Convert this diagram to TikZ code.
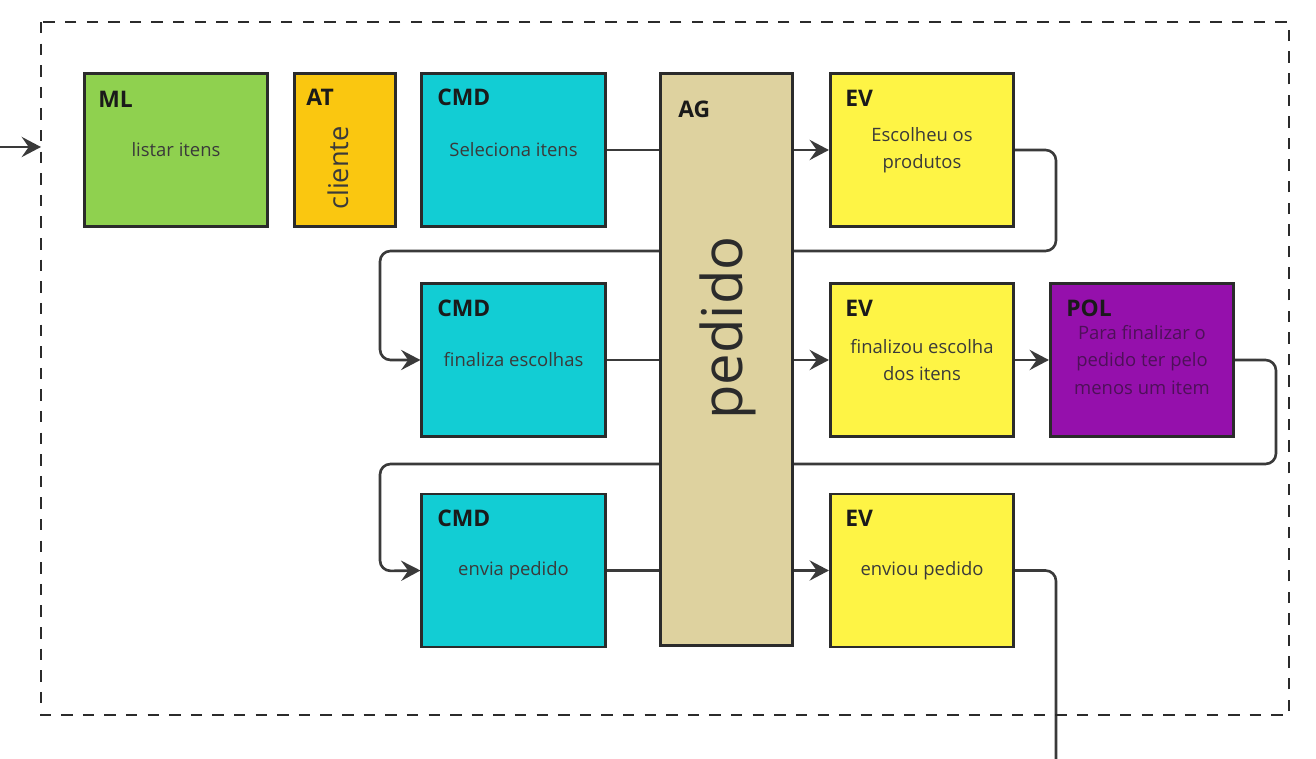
\documentclass[tikz,border=0pt]{standalone}
\usepackage{fontspec}
\setmainfont{Open Sans}
\usepackage{xcolor}
\definecolor{mlGreen}{HTML}{8FD14F}
\definecolor{atYellow}{HTML}{FAC710}
\definecolor{cmdCyan}{HTML}{12CDD4}
\definecolor{agBeige}{HTML}{DED29F}
\definecolor{evYellow}{HTML}{FEF445}
\definecolor{polPurple}{HTML}{9510AC}
\definecolor{edgeGray}{HTML}{2B2B2B}
\definecolor{lineGray}{HTML}{3A3A3A}
\definecolor{bodyGray}{HTML}{3A3A3A}
\definecolor{tagBlack}{HTML}{1A1A1A}
\definecolor{polText}{HTML}{4E1059}
\usetikzlibrary{arrows.meta}
\usetikzlibrary{backgrounds}

\begin{document}
\begin{tikzpicture}[x=0.02cm, y=-0.02cm,
    card/.style={draw=edgeGray, line width=1.5pt, minimum width=3.67cm, minimum height=3.06cm,
      align=center, inner sep=2pt, text=bodyGray, font=\fontsize{10.5}{15.4}\selectfont},
    tag/.style={anchor=west, inner sep=0pt, text=tagBlack, font=\fontsize{13}{14}\selectfont\bfseries},
    link/.style={draw=lineGray, line width=1.5pt},
    flow/.style={link, -{Stealth[length=11pt, width=11.5pt, inset=4pt]}},
    frame/.style={draw=edgeGray, line width=1.5pt, dash pattern=on 6.5pt off 5.8pt}]
        \useasboundingbox (0,0) rectangle (1316,759);
        \draw [frame] (41,22) rectangle (1289,715);

        % first row
        \node [card, fill=mlGreen] (ml) at (176,150) {listar itens};
        \node [card, fill=atYellow, minimum width=2.03cm] (at) at (345,150) {};
        \node [card, fill=cmdCyan] (cmdA) at (513.5,150) {Seleciona itens};
        \node [card, fill=evYellow] (evA) at (922,150) {Escolheu os\\produtos};
        % second row
        \node [card, fill=cmdCyan] (cmdB) at (513.5,360) {finaliza escolhas};
        \node [card, fill=evYellow] (evB) at (922,360) {finalizou escolha\\dos itens};
        \node [card, fill=polPurple, text=polText] (pol) at (1142,360) {Para finalizar o\\pedido ter pelo\\menos um item};
        % third row
        \node [card, fill=cmdCyan] (cmdC) at (513.5,570.5) {envia pedido};
        \node [card, fill=evYellow] (evC) at (922,570.5) {enviou pedido};
        % aggregate
        \node [card, fill=agBeige, minimum width=2.65cm, minimum height=11.45cm] (ag) at (726.5,359.5) {};

        \node [tag] (mlTag) at (98,99) {ML};
        \node [tag] (atTag) at (306,97) {AT};
        \node [tag] (cmdATag) at (437,97) {CMD};
        \node [tag] (cmdBTag) at (437,308) {CMD};
        \node [tag] (cmdCTag) at (437,518) {CMD};
        \node [tag] (agTag) at (678,109) {AG};
        \node [tag] (evATag) at (845,98) {EV};
        \node [tag] (evBTag) at (845,308) {EV};
        \node [tag] (evCTag) at (845,518) {EV};
        \node [tag] (polTag) at (1066,308) {POL};
        \node [rotate=90, text=bodyGray, font=\fontsize{15.5}{16}\selectfont] (atName) at (338,168) {cliente};
        \node [rotate=90, text=edgeGray, font=\fontsize{32}{32}\selectfont] (agName) at (728,328) {pedido};

        \coordinate (entry) at (0,147);
        \coordinate (frameIn) at (41,147);
        \coordinate (exit) at (1056,759);

        \begin{pgfonlayer}{background}
          \draw [flow] (entry) -- (frameIn);
          \draw [link] (cmdA.east) -- (cmdA.east -| ag.west);
          \draw [link] (cmdB.east) -- (cmdB.east -| ag.west);
          \draw [link] (cmdC.east) -- (cmdC.east -| ag.west);
          \draw [flow] (ag.east |- evA.west) -- (evA.west);
          \draw [flow] (ag.east |- evB.west) -- (evB.west);
          \draw [flow] (ag.east |- evC.west) -- (evC.west);
          \draw [flow] (evB.east) -- (pol.west);
          \draw [flow, rounded corners=6pt] (evA.east) -| (1056,251) -| (380,360) -- (cmdB.west);
          \draw [flow, rounded corners=6pt] (pol.east) -| (1276,464) -| (380,571) -- (cmdC.west);
          \draw [link, rounded corners=6pt] (evC.east) -| (exit);
        \end{pgfonlayer}
      \end{tikzpicture}
\end{document}
